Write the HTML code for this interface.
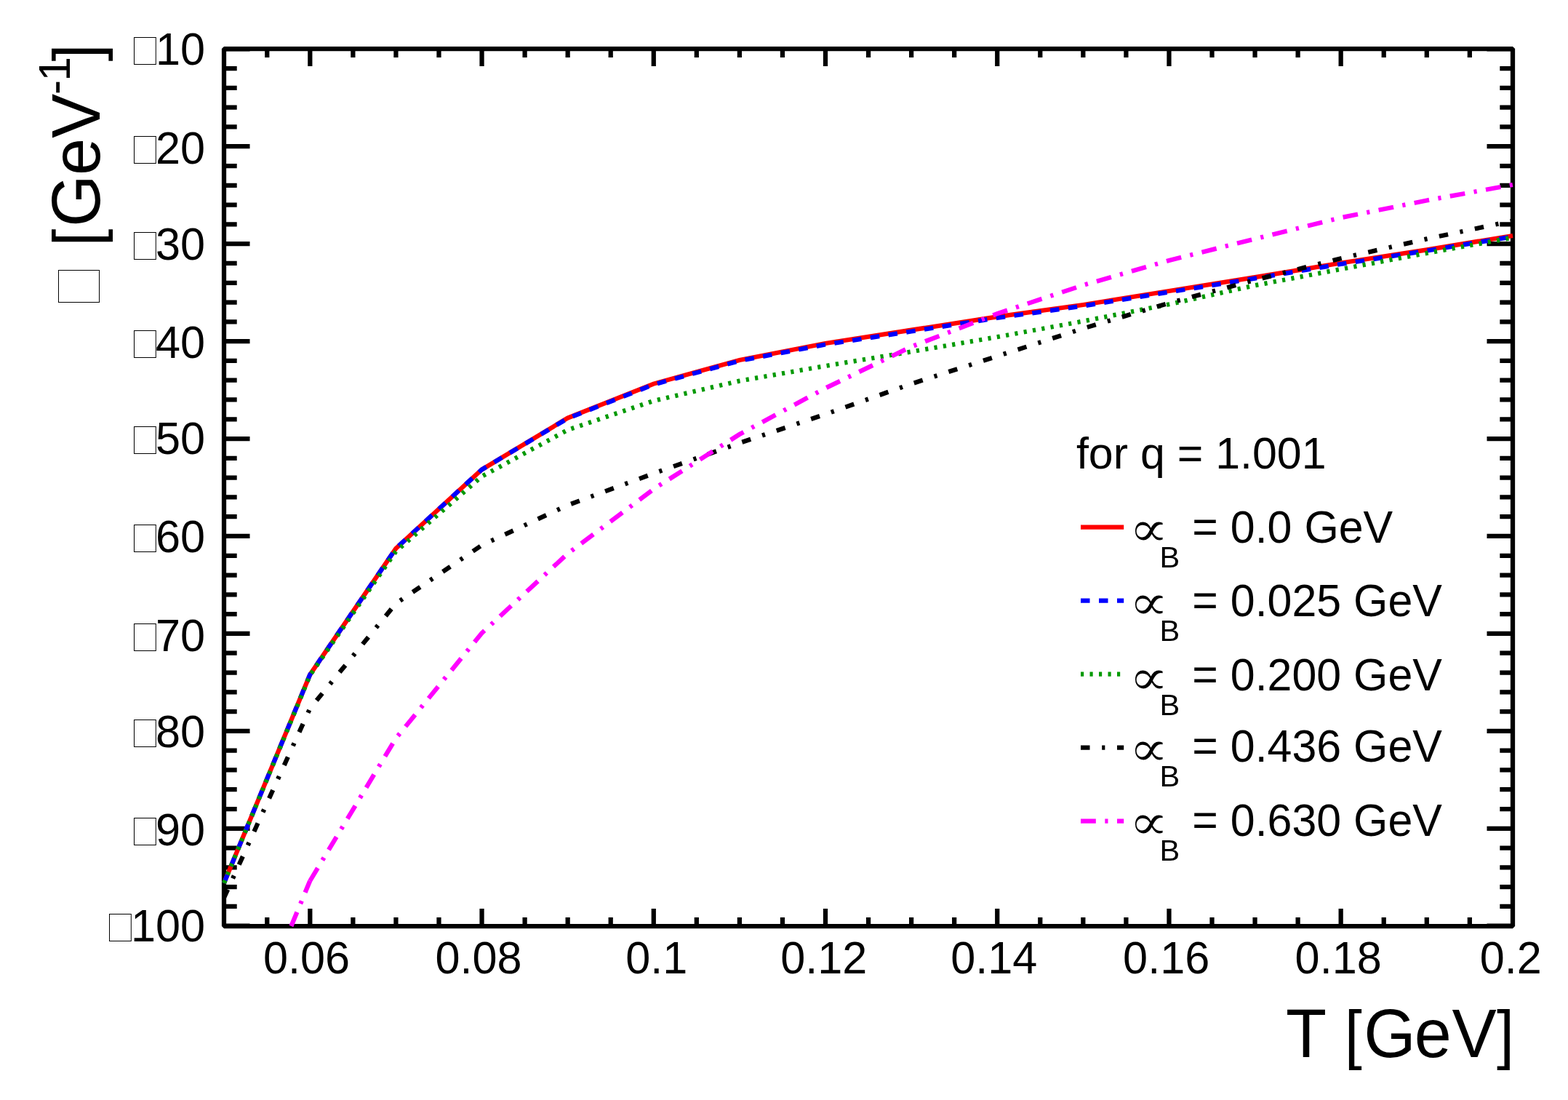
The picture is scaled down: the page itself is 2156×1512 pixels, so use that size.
<!DOCTYPE html>
<html lang="en"><head><meta charset="utf-8"><title>Plot: T [GeV]</title>
<style>html,body{margin:0;padding:0;background:#ffffff}svg{display:block}text{font-family:"Liberation Sans",sans-serif;fill:#000;font-kerning:none}.sym{font-family:"WenQuanYi Zen Hei","DejaVu Sans",sans-serif}</style></head><body>
<svg width="2156" height="1512" viewBox="0 0 2156 1512">
<rect x="0" y="0" width="2156" height="1512" fill="#ffffff"/>
<g stroke="#000" stroke-width="6.25" fill="none" stroke-linecap="butt">
<rect x="308" y="67" width="1772" height="1206" stroke-linejoin="bevel"/>
<path d="M367.26 1273v-12M367.26 67v12M426.31 1273v-24M426.31 67v24M485.37 1273v-12M485.37 67v12M544.43 1273v-12M544.43 67v12M603.48 1273v-12M603.48 67v12M662.54 1273v-24M662.54 67v24M721.6 1273v-12M721.6 67v12M780.65 1273v-12M780.65 67v12M839.71 1273v-12M839.71 67v12M898.77 1273v-24M898.77 67v24M957.82 1273v-12M957.82 67v12M1016.88 1273v-12M1016.88 67v12M1075.94 1273v-12M1075.94 67v12M1134.99 1273v-24M1134.99 67v24M1194.05 1273v-12M1194.05 67v12M1253.11 1273v-12M1253.11 67v12M1312.16 1273v-12M1312.16 67v12M1371.22 1273v-24M1371.22 67v24M1430.28 1273v-12M1430.28 67v12M1489.33 1273v-12M1489.33 67v12M1548.39 1273v-12M1548.39 67v12M1607.45 1273v-24M1607.45 67v24M1666.5 1273v-12M1666.5 67v12M1725.56 1273v-12M1725.56 67v12M1784.62 1273v-12M1784.62 67v12M1843.67 1273v-24M1843.67 67v24M1902.73 1273v-12M1902.73 67v12M1961.79 1273v-12M1961.79 67v12M2020.84 1273v-12M2020.84 67v12M308 94.09h17.7M2080 94.09h-17.7M308 120.88h17.7M2080 120.88h-17.7M308 147.66h17.7M2080 147.66h-17.7M308 174.45h17.7M2080 174.45h-17.7M308 201.24h35.5M2080 201.24h-35.5M308 228.03h17.7M2080 228.03h-17.7M308 254.81h17.7M2080 254.81h-17.7M308 281.6h17.7M2080 281.6h-17.7M308 308.39h17.7M2080 308.39h-17.7M308 335.18h35.5M2080 335.18h-35.5M308 361.97h17.7M2080 361.97h-17.7M308 388.75h17.7M2080 388.75h-17.7M308 415.54h17.7M2080 415.54h-17.7M308 442.33h17.7M2080 442.33h-17.7M308 469.12h35.5M2080 469.12h-35.5M308 495.9h17.7M2080 495.9h-17.7M308 522.69h17.7M2080 522.69h-17.7M308 549.48h17.7M2080 549.48h-17.7M308 576.27h17.7M2080 576.27h-17.7M308 603.06h35.5M2080 603.06h-35.5M308 629.84h17.7M2080 629.84h-17.7M308 656.63h17.7M2080 656.63h-17.7M308 683.42h17.7M2080 683.42h-17.7M308 710.21h17.7M2080 710.21h-17.7M308 736.99h35.5M2080 736.99h-35.5M308 763.78h17.7M2080 763.78h-17.7M308 790.57h17.7M2080 790.57h-17.7M308 817.36h17.7M2080 817.36h-17.7M308 844.15h17.7M2080 844.15h-17.7M308 870.93h35.5M2080 870.93h-35.5M308 897.72h17.7M2080 897.72h-17.7M308 924.51h17.7M2080 924.51h-17.7M308 951.3h17.7M2080 951.3h-17.7M308 978.08h17.7M2080 978.08h-17.7M308 1004.87h35.5M2080 1004.87h-35.5M308 1031.66h17.7M2080 1031.66h-17.7M308 1058.45h17.7M2080 1058.45h-17.7M308 1085.24h17.7M2080 1085.24h-17.7M308 1112.02h17.7M2080 1112.02h-17.7M308 1138.81h35.5M2080 1138.81h-35.5M308 1165.6h17.7M2080 1165.6h-17.7M308 1192.39h17.7M2080 1192.39h-17.7M308 1219.17h17.7M2080 1219.17h-17.7M308 1245.96h17.7M2080 1245.96h-17.7M308 67.4h35.5M2080 67.4h-35.5M308 1272.7h35.5M2080 1272.7h-35.5"/>
</g>
<g fill="none" stroke-width="6.25" stroke-linecap="butt" stroke-linejoin="miter">
<polyline points="308,1213.9 426.13,927.5 544.27,754 662.4,645.5 780.53,574.6 898.67,527.6 1016.8,495 1134.93,472 1253.07,453.7 1371.2,435.4 1489.33,419 1607.47,400 1725.6,381.2 1843.73,361.5 1961.87,343.3 2080,324" stroke="#ff0000"/>
<polyline points="308,1213.9 426.13,927.5 544.27,754 662.4,645.5 780.53,575.1 898.67,528.6 1016.8,496 1134.93,473.5 1253.07,455.5 1371.2,437 1489.33,420.5 1607.47,401.5 1725.6,382.7 1843.73,363 1961.87,344.6 2080,325.3" stroke="#0000ff" stroke-dasharray="12.5 12.5"/>
<polyline points="308,1213.9 426.13,928.3 544.27,758 662.4,655 780.53,591 898.67,551 1016.8,523.6 1134.93,503 1253.07,483.4 1371.2,463.2 1489.33,441.5 1607.47,418.3 1725.6,392.3 1843.73,370 1961.87,347.9 2080,326.7" stroke="#009900" stroke-dasharray="4.17 8.33"/>
<polyline points="308,1234 426.13,974 544.27,829.6 662.4,749.5 780.53,694.4 898.67,650.8 1016.8,609 1134.93,569.4 1253.07,527.6 1371.2,489.6 1489.33,451.5 1607.47,416.5 1725.6,384.9 1843.73,355.2 1961.87,328.4 2080,303.5" stroke="#000000" stroke-dasharray="12.5 16.67 4.17 16.67"/>
<polyline points="400.43,1273 426.13,1211" stroke="#ff00ff" stroke-dasharray="20.83 12.5 4.17 12.5"/>
<polyline points="426.13,1211 544.27,1015 662.4,870.3 780.53,761 898.67,672.3 1016.8,597 1134.93,533.5 1253.07,476.6 1371.2,431.1 1489.33,392 1607.47,358 1725.6,328.3 1843.73,299.2 1961.87,275.5 2080,254" stroke="#ff00ff" stroke-dasharray="20.83 12.5 4.17 12.5"/>
</g>
<g id="xlabels">
<text transform="translate(362 1338) scale(1 1.035)" font-size="61.2">0.06</text>
<text transform="translate(598.55 1338) scale(1 1.035)" font-size="61.2">0.08</text>
<text transform="translate(860.2 1338) scale(1 1.035)" font-size="61.2">0.1</text>
<text transform="translate(1073.19 1338) scale(1 1.035)" font-size="61.2">0.12</text>
<text transform="translate(1307.2 1338) scale(1 1.035)" font-size="61.2">0.14</text>
<text transform="translate(1544.12 1338) scale(1 1.035)" font-size="61.2">0.16</text>
<text transform="translate(1780.62 1338) scale(1 1.035)" font-size="61.2">0.18</text>
<text transform="translate(2034.79 1338) scale(1 1.035)" font-size="61.2">0.2</text>
</g>
<g id="ylabels">
<text transform="translate(282 89) scale(1 1.035)" font-size="61.2" text-anchor="end">10</text>
<path d="M214.3 51.5H184.5V88.5H214.3" fill="none" stroke="#000" stroke-width="1" shape-rendering="crispEdges"/><path d="M214.3 51V89" fill="none" stroke="#000" stroke-width="1"/>
<text transform="translate(282 225.1) scale(1 1.035)" font-size="61.2" text-anchor="end">20</text>
<path d="M214.3 187.5H184.5V224.5H214.3" fill="none" stroke="#000" stroke-width="1" shape-rendering="crispEdges"/><path d="M214.3 187V225" fill="none" stroke="#000" stroke-width="1"/>
<text transform="translate(282 357) scale(1 1.035)" font-size="61.2" text-anchor="end">30</text>
<path d="M214.3 319.5H184.5V356.5H214.3" fill="none" stroke="#000" stroke-width="1" shape-rendering="crispEdges"/><path d="M214.3 319V357" fill="none" stroke="#000" stroke-width="1"/>
<text transform="translate(282 492.1) scale(1 1.035)" font-size="61.2" text-anchor="end">40</text>
<path d="M214.3 454.5H184.5V491.5H214.3" fill="none" stroke="#000" stroke-width="1" shape-rendering="crispEdges"/><path d="M214.3 454V492" fill="none" stroke="#000" stroke-width="1"/>
<text transform="translate(282 624.1) scale(1 1.035)" font-size="61.2" text-anchor="end">50</text>
<path d="M214.3 586.5H184.5V623.5H214.3" fill="none" stroke="#000" stroke-width="1" shape-rendering="crispEdges"/><path d="M214.3 586V624" fill="none" stroke="#000" stroke-width="1"/>
<text transform="translate(282 759) scale(1 1.035)" font-size="61.2" text-anchor="end">60</text>
<path d="M214.3 721.5H184.5V758.5H214.3" fill="none" stroke="#000" stroke-width="1" shape-rendering="crispEdges"/><path d="M214.3 721V759" fill="none" stroke="#000" stroke-width="1"/>
<text transform="translate(282 895.1) scale(1 1.035)" font-size="61.2" text-anchor="end">70</text>
<path d="M214.3 857.5H184.5V894.5H214.3" fill="none" stroke="#000" stroke-width="1" shape-rendering="crispEdges"/><path d="M214.3 857V895" fill="none" stroke="#000" stroke-width="1"/>
<text transform="translate(282 1027) scale(1 1.035)" font-size="61.2" text-anchor="end">80</text>
<path d="M214.3 989.5H184.5V1026.5H214.3" fill="none" stroke="#000" stroke-width="1" shape-rendering="crispEdges"/><path d="M214.3 989V1027" fill="none" stroke="#000" stroke-width="1"/>
<text transform="translate(282 1162) scale(1 1.035)" font-size="61.2" text-anchor="end">90</text>
<path d="M214.3 1124.5H184.5V1161.5H214.3" fill="none" stroke="#000" stroke-width="1" shape-rendering="crispEdges"/><path d="M214.3 1124V1162" fill="none" stroke="#000" stroke-width="1"/>
<text transform="translate(282 1294.05) scale(1 1.035)" font-size="61.2" text-anchor="end">100</text>
<path d="M180.3 1256.5H150.5V1293.5H180.3" fill="none" stroke="#000" stroke-width="1" shape-rendering="crispEdges"/><path d="M180.3 1256V1294" fill="none" stroke="#000" stroke-width="1"/>
</g>
<g id="xtitle">
<text transform="translate(1767.94 1452.6) scale(1 1.027)" font-size="91.8"><tspan x="0 56.08" y="0">T </tspan><tspan font-size="86.5" x="80.8" y="-0.63">[</tspan><tspan x="107.35 176.86 228.46" y="0">GeV</tspan><tspan font-size="86.5" x="289.99" y="-0.63">]</tspan></text>
</g>
<g id="ytitle">
<rect x="80.5" y="371.5" width="56" height="44" fill="none" stroke="#000" stroke-width="1" shape-rendering="crispEdges"/>
<text transform="translate(137.1 338.47) rotate(-90) scale(1 1.027)" font-size="91.8"><tspan font-size="86.5" x="0" y="-0.63">[</tspan><tspan x="26.65 97.57 148.56" y="0">GeV</tspan><tspan font-size="60" x="208.5 226.9" y="-40.41">-1</tspan><tspan font-size="86.5" x="254.09" y="-0.63">]</tspan></text>
</g>
<g id="legend">
<text transform="translate(1479.94 643.6) scale(1 1.015)" font-size="60.9">for q = 1.001</text>
<path d="M1486 724.5H1545.2" stroke="#ff0000" stroke-width="6.25" fill="none"/>
<text transform="translate(1543.26 750.44) scale(1.044 0.9614)" font-size="70" class="sym">∝</text>
<text transform="translate(1594.6 779.8)" font-size="41.5">B</text>
<text transform="translate(1639.33 746.3) scale(1 1.035)" font-size="60.9">= 0.0 GeV</text>
<path d="M1486 825.5H1545.2" stroke="#0000ff" stroke-width="6.25" fill="none" stroke-dasharray="12.5 12.5"/>
<text transform="translate(1543.26 851.44) scale(1.044 0.9614)" font-size="70" class="sym">∝</text>
<text transform="translate(1594.6 880.8)" font-size="41.5">B</text>
<text transform="translate(1639.33 847.3) scale(1 1.035)" font-size="60.9">= 0.025 GeV</text>
<path d="M1486 926.5H1545.2" stroke="#009900" stroke-width="6.25" fill="none" stroke-dasharray="4.17 8.33"/>
<text transform="translate(1543.26 953.54) scale(1.044 0.9614)" font-size="70" class="sym">∝</text>
<text transform="translate(1594.6 982.9)" font-size="41.5">B</text>
<text transform="translate(1639.33 949.4) scale(1 1.035)" font-size="60.9">= 0.200 GeV</text>
<path d="M1486 1027.5H1545.2" stroke="#000000" stroke-width="6.25" fill="none" stroke-dasharray="12.5 16.67 4.17 16.67"/>
<text transform="translate(1543.26 1051.54) scale(1.044 0.9614)" font-size="70" class="sym">∝</text>
<text transform="translate(1594.6 1080.9)" font-size="41.5">B</text>
<text transform="translate(1639.33 1047.4) scale(1 1.035)" font-size="60.9">= 0.436 GeV</text>
<path d="M1486 1128.5H1545.2" stroke="#ff00ff" stroke-width="6.25" fill="none" stroke-dasharray="20.83 12.5 4.17 12.5"/>
<text transform="translate(1543.26 1153.44) scale(1.044 0.9614)" font-size="70" class="sym">∝</text>
<text transform="translate(1594.6 1182.8)" font-size="41.5">B</text>
<text transform="translate(1639.33 1149.3) scale(1 1.035)" font-size="60.9">= 0.630 GeV</text>
</g>
</svg></body></html>
